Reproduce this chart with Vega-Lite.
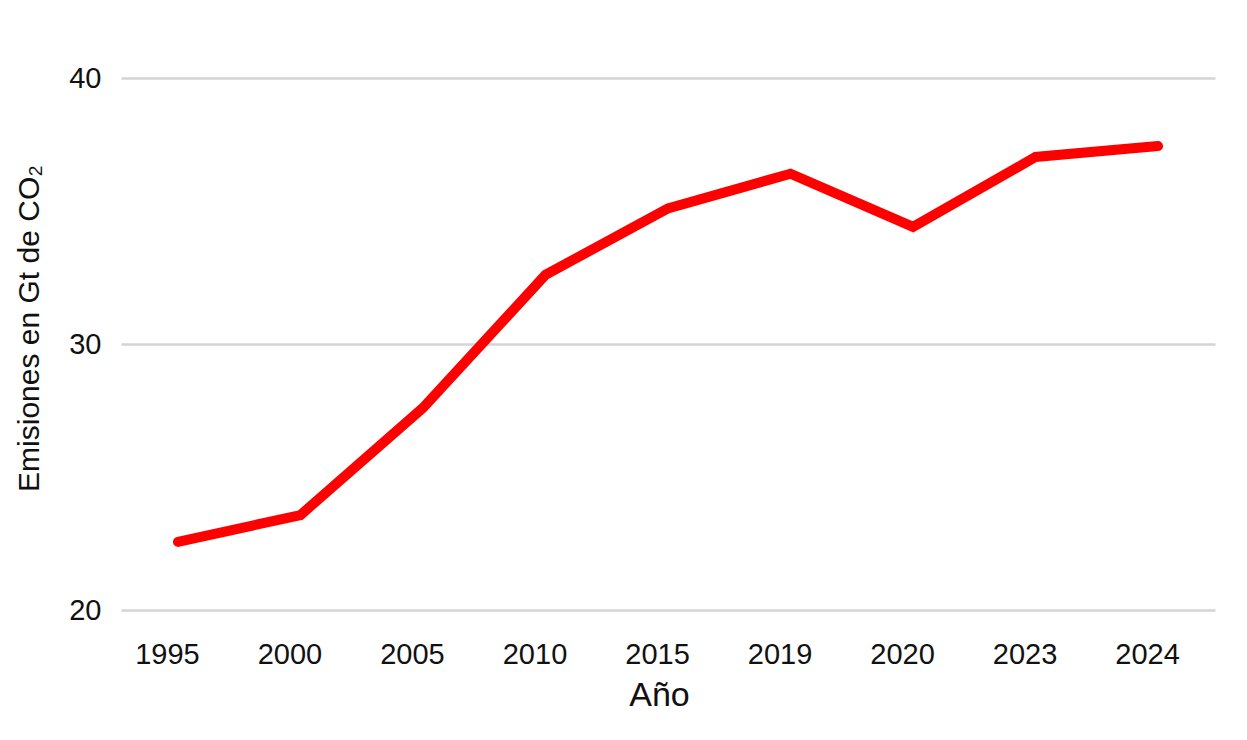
{
  "$schema": "https://vega.github.io/schema/vega-lite/v6.json",
  "autosize": "none",
  "padding": {"left": 121, "top": 78, "right": 32, "bottom": 130},
  "width": 1094,
  "height": 532,
  "background": "white",
  "config": {"view": {"stroke": null}, "font": "Liberation Sans"},
  "data": {"values": [
    {"year": "1995", "emissions": 22.56},
    {"year": "2000", "emissions": 23.57},
    {"year": "2005", "emissions": 27.6},
    {"year": "2010", "emissions": 32.6},
    {"year": "2015", "emissions": 35.1},
    {"year": "2019", "emissions": 36.4},
    {"year": "2020", "emissions": 34.4},
    {"year": "2023", "emissions": 37.03},
    {"year": "2024", "emissions": 37.44}
  ]},
  "mark": {"type": "line", "color": "#ff0000", "strokeWidth": 10, "strokeCap": "round", "strokeJoin": "miter"},
  "encoding": {
    "x": {
      "field": "year", "type": "ordinal", "sort": null,
      "scale": {"type": "point", "padding": 0.465},
      "axis": {
        "title": "Año", "titleFontSize": 34, "titleFontWeight": "normal", "titleColor": "#111111", "titlePadding": 9, "titleX": 538,
        "labelAngle": 0, "labelFontSize": 29, "labelColor": "#111111", "labelPadding": 30, "labelOffset": -11,
        "domain": false, "ticks": false, "grid": false
      }
    },
    "y": {
      "field": "emissions", "type": "quantitative",
      "scale": {"domain": [20, 40], "nice": false, "zero": false},
      "axis": {
        "title": "Emisiones en Gt de CO₂", "titleFontSize": 30, "titleFontWeight": "normal", "titleColor": "#111111", "titlePadding": 24, "titleY": 250,
        "values": [20, 30, 40], "labelFontSize": 29, "labelColor": "#111111", "labelPadding": 20, "labelDy": -6,
        "domain": false, "ticks": false, "grid": true, "gridColor": "#d4d4d4", "gridWidth": 2.5
      }
    }
  }
}
